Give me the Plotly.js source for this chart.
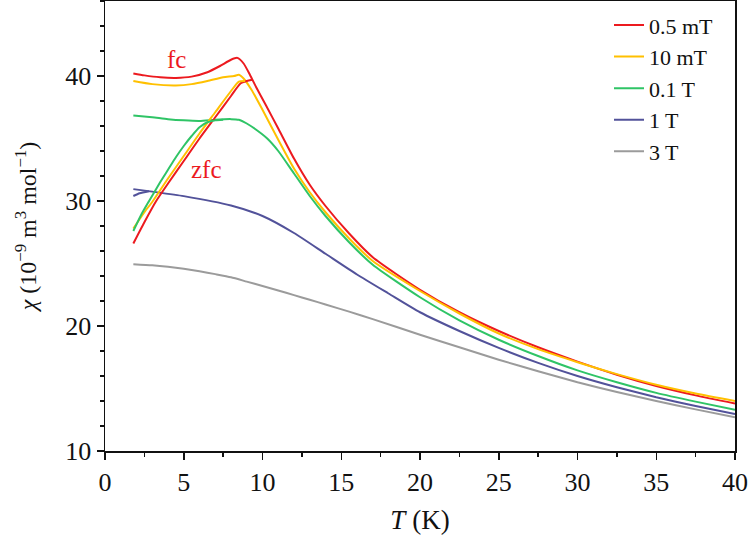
<!DOCTYPE html>
<html>
<head>
<meta charset="utf-8">
<script src="https://cdn.plot.ly/plotly-3.0.1.min.js"></script>
<style>html,body{margin:0;padding:0;background:#fff;}#plot{width:750px;height:542px;}</style>
</head>
<body>
<div id="plot"></div>
<script>
// Field labels and colours
const fieldNames = ["0.5 mT", "10 mT", "0.1 T", "1 T", "3 T"];
const colors = ["#ec1a1f", "#ffc000", "#2fc466", "#52529a", "#9b9b9b"];

// 0.5 mT
const tFc05 = [1.8, 2.5, 3.5, 4.5, 5.5, 6.5, 7.3, 8.0, 8.4, 8.8, 9.2, 9.6, 10.2, 11, 12, 13, 14, 15.5, 17, 20, 22.5, 25, 27.5, 30, 32.5, 35, 37.5, 40];
const chiFc05 = [40.2, 40.05, 39.9, 39.85, 39.95, 40.3, 40.8, 41.3, 41.45, 41.0, 40.1, 39.1, 37.7, 35.8, 33.4, 31.3, 29.6, 27.4, 25.5, 22.9, 21.1, 19.6, 18.3, 17.15, 16.1, 15.2, 14.45, 13.8];
const tZfc05 = [1.8, 2.5, 3.25, 4, 5, 6, 7, 8, 8.6, 9.0, 9.35];
const chiZfc05 = [26.6, 28.3, 30.0, 31.4, 33.2, 35.0, 36.7, 38.4, 39.4, 39.6, 39.7];

// 10 mT
const tFc10m = [1.8, 3, 4.5, 5.5, 6.5, 7.5, 8.2, 8.5, 8.8, 9.3, 10, 11, 12, 13, 14, 15.5, 17, 20, 22.5, 25, 27.5, 30, 32.5, 35, 37.5, 40];
const chiFc10m = [39.6, 39.35, 39.25, 39.35, 39.6, 39.9, 40.0, 40.1, 39.8, 38.9, 37.3, 34.9, 32.6, 30.7, 29.1, 27.0, 25.2, 22.8, 21.0, 19.4, 18.15, 17.1, 16.15, 15.3, 14.6, 14.0];
const tZfc10m = [1.8, 2.5, 3.04, 4, 5, 6, 7, 8, 8.5, 8.9];
const chiZfc10m = [27.8, 29.1, 30.0, 31.8, 33.6, 35.4, 37.1, 38.8, 39.55, 39.6];

// 0.1 T
const tFc01 = [1.8, 3, 4, 5, 6, 7, 8, 8.5, 9, 9.6, 10.3, 11, 12, 13, 14, 15.5, 17, 20, 22.5, 25, 27.5, 30, 32.5, 35, 37.5, 40];
const chiFc01 = [36.85, 36.7, 36.55, 36.45, 36.4, 36.5, 36.55, 36.5, 36.2, 35.7, 35.0, 34.0, 32.2, 30.4, 28.8, 26.7, 24.9, 22.3, 20.45, 18.9, 17.6, 16.45, 15.5, 14.65, 13.95, 13.3];
const tZfc01 = [1.8, 2.3, 2.8, 3.5, 4, 4.5, 5, 5.5, 6, 6.5, 7, 7.5];
const chiZfc01 = [27.6, 28.9, 30.0, 31.5, 32.5, 33.5, 34.4, 35.2, 35.9, 36.3, 36.45, 36.5];

// 1 T
const tFc1 = [1.8, 3, 5, 8, 10, 12, 14, 16, 18, 20, 22.5, 25, 27.5, 30, 32.5, 35, 37.5, 40];
const chiFc1 = [30.95, 30.75, 30.39, 29.64, 28.8, 27.44, 25.78, 24.12, 22.6, 21.1, 19.6, 18.25, 17.05, 16.0, 15.1, 14.3, 13.6, 12.95];
const tZfc1 = [1.8, 2.2, 2.8];
const chiZfc1 = [30.4, 30.62, 30.78];

// 3 T
const tFc3 = [1.8, 3, 4, 5, 6, 7, 8, 9, 10, 11, 12, 13, 14, 15.5, 17, 20, 22.5, 25, 27.5, 30, 32.5, 35, 37.5, 40];
const chiFc3 = [24.95, 24.86, 24.74, 24.58, 24.38, 24.15, 23.9, 23.55, 23.2, 22.84, 22.47, 22.1, 21.72, 21.15, 20.55, 19.3, 18.3, 17.3, 16.38, 15.5, 14.72, 14.0, 13.33, 12.7];

// Curve labels
const curveLabels = ["fc", "zfc"];
const curveLabelT = [4.55, 6.45];
const curveLabelChi = [41.3, 32.5];

const fcT = [tFc05, tFc10m, tFc01, tFc1, tFc3];
const fcChi = [chiFc05, chiFc10m, chiFc01, chiFc1, chiFc3];
const zfcT = [tZfc05, tZfc10m, tZfc01, tZfc1];
const zfcChi = [chiZfc05, chiZfc10m, chiZfc01, chiZfc1];

const traces = [];
for (let i = 0; i < fcT.length; i++) {
  traces.push({
    x: fcT[i], y: fcChi[i], type: 'scatter', mode: 'lines', name: fieldNames[i],
    line: {color: colors[i], width: 2, shape: 'spline', smoothing: 0.6}
  });
}
for (let i = 0; i < zfcT.length; i++) {
  traces.push({
    x: zfcT[i], y: zfcChi[i], type: 'scatter', mode: 'lines', name: fieldNames[i] + ' zfc',
    showlegend: false,
    line: {color: colors[i], width: 2, shape: 'spline', smoothing: 0.6}
  });
}

const serif = '"Liberation Serif", "Times New Roman", serif';
const layout = {
  width: 750, height: 542,
  margin: {l: 105, r: 15, t: 1, b: 91},
  paper_bgcolor: '#fff', plot_bgcolor: '#fff',
  font: {family: serif, size: 24, color: '#111'},
  showlegend: true,
  legend: {x: 0.80, y: 0.993, xanchor: 'left', yanchor: 'top', bgcolor: 'rgba(0,0,0,0)',
           font: {family: serif, size: 22, color: '#111'}, tracegroupgap: 0},
  xaxis: {
    range: [0, 40], tickmode: 'linear', tick0: 0, dtick: 5,
    ticks: 'outside', ticklen: 7, tickwidth: 1.5, tickcolor: '#111',
    minor: {dtick: 2.5, ticks: 'outside', ticklen: 4, tickwidth: 1.5, tickcolor: '#111'},
    showline: true, linecolor: '#111', linewidth: 1.5, mirror: true,
    showgrid: false, zeroline: false,
    tickfont: {family: serif, size: 26, color: '#111'},
    title: {text: '<i>T</i> (K)', font: {family: serif, size: 27, color: '#111'}, standoff: 14}
  },
  yaxis: {
    range: [10, 46], tickmode: 'array', tickvals: [10, 20, 30, 40],
    ticks: 'outside', ticklen: 7, tickwidth: 1.5, tickcolor: '#111',
    minor: {dtick: 2, tick0: 10, ticks: 'outside', ticklen: 4, tickwidth: 1.5, tickcolor: '#111'},
    showline: true, linecolor: '#111', linewidth: 1.5, mirror: true,
    showgrid: false, zeroline: false,
    tickfont: {family: serif, size: 26, color: '#111'},
    title: {text: '<i>χ</i> (10<sup>−9</sup> m<sup>3</sup> mol<sup>−1</sup>)', font: {family: serif, size: 24, color: '#111'}, standoff: 22}
  },
  annotations: curveLabels.map((txt, i) => ({
    x: curveLabelT[i], y: curveLabelChi[i], xref: 'x', yref: 'y', text: txt,
    showarrow: false, font: {family: serif, size: 25, color: '#ec1a1f'}
  }))
};

Plotly.newPlot('plot', traces, layout, {staticPlot: true, displayModeBar: false});
</script>
</body>
</html>
